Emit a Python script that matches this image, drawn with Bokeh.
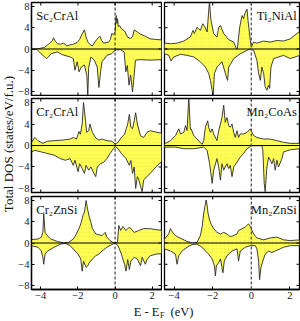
import numpy as np
from bokeh.plotting import figure
from bokeh.models import Range1d, FixedTicker, LinearAxis, Span, Label
from bokeh.layouts import gridplot, row, column
from bokeh.core.properties import value
from bokeh.embed import file_html
from bokeh.resources import INLINE

SERIF = "Liberation Serif"

# ---------------- data (energy in eV, DOS in states/eV/f.u.) ----------------
sc_e_up = [-4.5, -4.15, -3.8, -3.55, -3.37, -3.32, -3.2, -3.11, -2.94, -2.77, -2.6, -2.4, -2.25, -2.05, -1.91,
           -1.78, -1.65, -1.56, -1.45, -1.3, -1.22, -1.05, -0.96, -0.82, -0.72, -0.61, -0.35, -0.25, -0.18, -0.1,
           0.0, 0.06, 0.1, 0.13, 0.18, 0.25, 0.34, 0.51, 0.68, 0.85, 0.94, 1.03, 1.2, 1.37, 1.63, 1.89, 2.2, 2.5]
sc_up = [0.0, 0.05, 0.3, 1.0, 1.6, 2.1, 1.4, 1.0, 0.9, 1.1, 0.6, 0.8, 0.9, 1.2, 1.8,
         2.8, 3.6, 2.2, 1.2, 0.7, 0.6, 1.5, 1.9, 2.4, 1.6, 1.1, 1.3, 1.8, 2.9, 2.7,
         3.2, 6.3, 4.8, 5.7, 4.2, 4.4, 3.8, 3.4, 2.2, 2.0, 2.3, 3.6, 3.2, 2.8, 2.4, 1.9, 1.8, 1.7]
sc_e_dn = [-4.5, -4.2, -3.98, -3.7, -3.62, -3.45, -3.11, -2.85, -2.42, -2.25, -2.16, -2.04, -1.94, -1.82, -1.65,
           -1.52, -1.47, -1.42, -1.3, -1.12, -0.96, -0.87, -0.78, -0.7, -0.44, -0.19, 0.0, 0.1, 0.3, 0.49,
           0.51, 0.58, 0.66, 0.75, 0.84, 0.94, 1.03, 1.1, 1.37, 1.89, 2.5]
sc_dn = [0.0, -0.1, -0.9, -1.8, -1.6, -0.9, -0.55, -1.06, -1.5, -1.8, -4.0, -2.4, -4.3, -3.4, -3.0,
         -5.0, -8.8, -3.5, -1.5, -2.1, -3.4, -7.25, -4.3, -2.4, -1.2, -0.9, -0.25, -0.15, -0.15, -0.55,
         -1.5, -4.3, -3.1, -6.8, -4.9, -8.1, -4.9, -2.1, -2.0, -2.1, -2.0]

ti_e_up = [-4.5, -4.19, -3.85, -3.5, -3.16, -3.02, -2.95, -2.81, -2.64, -2.52, -2.41, -2.29, -2.17, -2.09, -1.95,
           -1.78, -1.69, -1.6, -1.43, -1.17, -0.91, -0.78, -0.72, -0.6, -0.48, -0.4, -0.31, -0.22, -0.17, -0.05,
           0.0, 0.12, 0.29, 0.64, 0.98, 1.33, 1.67, 2.02, 2.36, 2.5]
ti_up = [1.1, 1.0, 1.1, 1.5, 2.25, 3.5, 2.9, 4.1, 3.5, 4.75, 4.2, 3.2, 8.9, 5.4, 2.9,
         2.25, 4.1, 4.4, 2.9, 1.75, 1.3, 0.1, 0.1, 4.1, 6.3, 5.7, 6.9, 7.5, 5.4, 1.6,
         0.4, 1.3, 1.1, 1.5, 1.3, 1.6, 1.5, 1.9, 2.9, 3.2]
ti_e_dn = [-4.5, -4.28, -4.16, -4.02, -3.67, -3.33, -2.98, -2.64, -2.38, -2.21, -2.12, -2.03, -1.98, -1.91, -1.78,
           -1.52, -1.29, -1.23, -1.17, -0.91, -0.57, -0.22, -0.05, 0.12, 0.29, 0.38, 0.47, 0.55, 0.64, 0.72,
           0.81, 0.9, 0.95, 1.02, 1.16, 1.67, 2.02, 2.36, 2.5]
ti_dn = [-0.9, -1.2, -2.25, -1.5, -1.0, -1.2, -1.5, -2.4, -3.4, -4.6, -5.9, -7.75, -8.8, -4.6, -3.4,
         -2.4, -5.25, -5.9, -3.4, -1.8, -0.9, -0.25, 0.0, -0.25, -2.1, -4.6, -5.9, -3.4, -4.6, -7.1,
         -7.75, -6.8, -7.4, -3.4, -1.8, -1.2, -1.8, -1.4, -1.2]

cr_e_up = [-4.5, -4.32, -4.15, -3.89, -3.63, -3.28, -2.86, -2.42, -2.25, -2.08, -1.94, -1.87, -1.77, -1.7, -1.59,
           -1.53, -1.42, -1.35, -1.28, -1.22, -1.04, -0.87, -0.7, -0.44, -0.18, 0.0, 0.16, 0.34, 0.51, 0.68,
           0.77, 0.85, 0.94, 1.03, 1.11, 1.2, 1.37, 1.54, 1.72, 1.89, 2.2, 2.5]
cr_up = [0.6, 1.5, 0.9, 0.4, 0.8, 0.9, 1.0, 1.2, 1.5, 1.2, 2.6, 2.1, 4.0, 8.0, 4.6,
         2.45, 2.75, 4.0, 3.1, 2.45, 1.4, 1.0, 1.2, 0.9, 0.8, 0.3, 0.6, 1.5, 2.1, 4.0,
         5.8, 3.4, 3.1, 4.6, 6.1, 4.0, 1.8, 1.5, 2.45, 2.75, 2.5, 2.3]
cr_e_dn = [-4.5, -4.32, -3.97, -3.63, -3.28, -2.94, -2.68, -2.42, -2.25, -2.16, -1.99, -1.91, -1.77, -1.65, -1.56,
           -1.42, -1.3, -1.18, -1.04, -0.96, -0.78, -0.61, -0.44, -0.27, -0.09, 0.0, 0.16, 0.34, 0.59, 0.77,
           0.85, 0.94, 1.03, 1.11, 1.2, 1.28, 1.37, 1.46, 1.54, 1.72, 1.89, 2.2, 2.5]
cr_dn = [-1.2, -0.9, -1.2, -1.5, -1.8, -2.45, -2.75, -2.45, -3.7, -2.75, -4.9, -3.4, -4.3, -5.2, -3.7,
         -4.6, -4.0, -4.9, -5.8, -4.0, -3.4, -3.1, -2.45, -1.5, -0.6, -0.2, -0.6, -1.5, -2.45, -3.7,
         -2.8, -5.2, -4.0, -8.0, -5.8, -6.4, -7.6, -8.6, -6.4, -5.8, -5.2, -4.0, -3.0]

mc_e_up = [-4.5, -4.19, -3.93, -3.76, -3.67, -3.5, -3.41, -3.33, -3.24, -3.16, -3.12, -2.98, -2.81, -2.55, -2.47,
           -2.38, -2.26, -2.21, -2.12, -2.03, -1.95, -1.78, -1.69, -1.6, -1.52, -1.43, -1.35, -1.26, -1.17, -1.09,
           -1.0, -0.91, -0.83, -0.74, -0.66, -0.57, -0.4, -0.22, -0.05, 0.0, 0.12, 0.29, 0.64, 0.98, 1.33,
           1.67, 2.02, 2.5]
mc_up = [0.3, 0.9, 1.85, 3.1, 2.15, 2.45, 3.7, 2.8, 9.0, 3.0, 3.1, 1.85, 1.2, 0.2, 0.9,
         3.4, 4.6, 3.4, 2.45, 3.1, 2.15, 0.9, 2.75, 4.0, 5.2, 7.5, 4.3, 5.2, 3.7, 3.4,
         4.0, 2.45, 1.5, 2.75, 1.5, 2.15, 2.15, 2.45, 3.1, 2.75, 1.85, 1.5, 1.2, 1.2, 0.9,
         0.6, 0.4, 0.4]
mc_e_dn = [-4.5, -3.93, -3.5, -2.98, -2.47, -2.29, -2.16, -2.03, -1.95, -1.78, -1.69, -1.6, -1.52, -1.43, -1.35,
           -1.26, -1.17, -1.09, -1.0, -0.91, -0.74, -0.57, -0.4, -0.22, -0.05, 0.03, 0.55, 0.6, 0.67, 0.72,
           0.81, 0.9, 1.07, 1.16, 1.24, 1.33, 1.41, 1.59, 1.67, 2.02, 2.5]
mc_dn = [-0.3, -0.3, -0.6, -0.6, -0.3, -0.9, -3.4, -7.05, -4.6, -2.45, -4.0, -6.45, -3.4, -4.6, -4.0,
         -3.4, -4.3, -3.7, -5.8, -4.0, -3.1, -2.15, -1.5, -0.6, -0.2, -0.05, -0.05, -0.9, -7.05, -8.6,
         -4.0, -2.15, -3.4, -2.45, -4.6, -2.75, -4.0, -2.45, -1.2, -0.8, -0.6]

cz_e_up = [-4.5, -4.15, -3.97, -3.89, -3.84, -3.77, -3.66, -3.46, -3.11, -2.77, -2.51, -2.25, -2.08, -1.91, -1.82,
           -1.73, -1.65, -1.56, -1.47, -1.39, -1.3, -1.22, -1.04, -0.7, -0.53, -0.44, -0.27, -0.09, 0.01, 0.13,
           0.2, 0.3, 0.42, 0.59, 0.77, 1.03, 1.28, 1.54, 1.89, 2.2, 2.5]
cz_up = [0.65, 0.75, 1.1, 2.0, 5.5, 2.0, 1.4, 0.75, 0.3, 0.0, 0.1, 0.75, 1.7, 3.0, 3.9,
         5.2, 5.8, 8.0, 6.2, 4.9, 3.9, 2.7, 1.7, 1.4, 2.0, 1.1, 0.45, 0.05, 0.0, 0.1,
         3.3, 2.35, 3.1, 2.35, 3.0, 2.0, 2.35, 2.7, 2.7, 2.5, 2.4]
cz_e_dn = [-4.5, -4.15, -3.97, -3.89, -3.84, -3.77, -3.63, -3.28, -2.94, -2.68, -2.42, -2.16, -1.99, -1.85, -1.77,
           -1.7, -1.56, -1.47, -1.39, -1.22, -1.04, -0.87, -0.7, -0.44, -0.18, 0.01, 0.16, 0.34, 0.51, 0.59,
           0.68, 0.77, 0.85, 1.03, 1.2, 1.37, 1.46, 1.63, 1.72, 1.89, 2.2, 2.5]
cz_dn = [-0.5, -0.8, -1.5, -2.7, -4.0, -2.1, -1.5, -0.8, -0.2, -0.05, -0.5, -1.5, -2.1, -3.0, -5.3,
         -3.4, -4.6, -4.3, -3.7, -3.0, -2.4, -2.1, -1.5, -0.8, -0.3, 0.0, -0.5, -2.1, -4.0, -5.3,
         -3.1, -5.0, -3.4, -2.7, -3.0, -4.3, -2.7, -4.0, -3.1, -2.4, -2.1, -2.0]

mz_e_up = [-4.5, -4.28, -4.19, -4.14, -4.02, -3.85, -3.59, -3.33, -3.07, -2.81, -2.64, -2.55, -2.47, -2.41, -2.34,
           -2.29, -2.24, -2.16, -2.09, -1.95, -1.78, -1.6, -1.43, -1.26, -1.09, -0.91, -0.74, -0.66, -0.48, -0.31,
           -0.14, -0.05, 0.12, 0.29, 0.64, 0.98, 1.33, 1.67, 2.02, 2.36, 2.5]
mz_up = [0.75, 1.7, 2.7, 2.35, 1.7, 1.2, 0.75, 0.3, 0.0, 0.1, 1.4, 3.0, 5.5, 6.8, 8.1,
         7.1, 5.5, 4.3, 3.6, 2.7, 2.0, 1.7, 2.0, 1.7, 1.2, 1.4, 1.7, 2.35, 2.7, 3.0,
         3.6, 3.1, 1.7, 0.95, 0.6, 0.95, 1.1, 0.6, 0.45, 0.55, 0.55]
mz_e_dn = [-4.5, -4.19, -3.93, -3.85, -3.76, -3.59, -3.33, -3.07, -2.81, -2.55, -2.38, -2.21, -2.03, -1.91, -1.86,
           -1.81, -1.69, -1.6, -1.52, -1.47, -1.4, -1.26, -1.0, -0.74, -0.66, -0.57, -0.31, -0.05, 0.21, 0.29,
           0.38, 0.43, 0.5, 0.6, 0.72, 0.9, 1.07, 1.24, 1.5, 1.67, 2.02, 2.5]
mz_dn = [-1.1, -1.5, -2.1, -4.0, -2.4, -1.5, -0.8, -0.3, -0.2, -0.8, -1.5, -2.1, -3.0, -4.3, -6.2,
         -4.3, -3.7, -3.0, -4.6, -5.6, -3.4, -2.4, -1.5, -1.1, -3.4, -1.5, -0.8, -0.5, -0.5, -1.1,
         -3.4, -6.9, -4.6, -3.4, -2.1, -1.5, -1.8, -1.5, -1.1, -0.8, -0.5, -0.5]

compounds = ["Sc₂CrAl", "Ti₂NiAl", "Cr₂CrAl", "Mn₂CoAs", "Cr₂ZnSi", "Mn₂ZnSi"]
x_ticks = [-4, -2, 0, 2]
y_ticks = [-8, -4, 0, 4, 8]

series = [
    (sc_e_up, sc_up, sc_e_dn, sc_dn),
    (ti_e_up, ti_up, ti_e_dn, ti_dn),
    (cr_e_up, cr_up, cr_e_dn, cr_dn),
    (mc_e_up, mc_up, mc_e_dn, mc_dn),
    (cz_e_up, cz_up, cz_e_dn, cz_dn),
    (mz_e_up, mz_up, mz_e_dn, mz_dn),
]

YELLOW = "#ffff55"
XMIN, XMAX = -4.5, 2.5
YMIN, YMAX = -8.75, 8.75
PAGE_H = 321
YSTRIP_W = 15
LEFT_B = 11
FRAME_W = 135
FRAME_H = [93, 94, 93]
TOP_B = 2
BOTTOM_B = [1, 2, 14]


def add_axis(p, side, ticks):
    ax = LinearAxis(ticker=FixedTicker(ticks=ticks, minor_ticks=[]))
    ax.major_tick_in = 3
    ax.major_tick_out = 0
    ax.major_tick_line_color = "black"
    ax.major_tick_line_width = 1
    ax.minor_tick_line_color = None
    ax.axis_line_color = "black"
    ax.axis_line_width = 1.3
    ax.major_label_text_font = SERIF
    ax.major_label_text_font_size = "10.5px"
    ax.major_label_text_color = "#222222"
    ax.major_label_standoff = 2
    p.add_layout(ax, side)


def edge_ticks(p, xs, ys, vertical):
    # short inward tick marks on an unlabelled frame edge (half of each dash is clipped by the frame)
    p.scatter(x=xs, y=ys, marker="dash", size=6, angle=np.pi / 2 if vertical else 0.0,
              line_color="black", line_width=1)


def make_panel(idx):
    r, c = divmod(idx, 2)
    left_b = LEFT_B if c == 0 else 2
    p = figure(width=left_b + FRAME_W + 1, height=TOP_B + FRAME_H[r] + BOTTOM_B[r],
               x_range=Range1d(XMIN, XMAX), y_range=Range1d(YMIN, YMAX), title=None,
               output_backend="svg", toolbar_location=None,
               x_axis_location=None, y_axis_location=None,
               min_border=0, min_border_left=left_b, min_border_right=1,
               min_border_top=TOP_B, min_border_bottom=BOTTOM_B[r])
    p.xgrid.visible = False
    p.ygrid.visible = False
    p.outline_line_color = "black"
    p.outline_line_width = 1.3
    p.background_fill_color = "white"
    p.border_fill_color = "white"

    eu, du, ed, dd = series[idx]
    for e, d in ((eu, du), (ed, dd)):
        p.varea(x=e, y1=0, y2=d, fill_color=YELLOW, fill_alpha=1.0,
                hatch_pattern="dot", hatch_color="#c8c030", hatch_alpha=0.25, hatch_scale=4)
        p.line(x=e, y=d, line_color="#2a2a2a", line_width=0.9)

    p.add_layout(Span(location=0, dimension="width", line_color="black", line_width=1.1))
    p.add_layout(Span(location=0, dimension="height", line_color="#555555" if c else "black",
                      line_width=1.3 if c else 0.9, line_dash="3 2"))

    # ticks on all four sides, labels only on the outer edges
    if r == 2:
        add_axis(p, "below", x_ticks)
    else:
        edge_ticks(p, x_ticks, [YMIN] * len(x_ticks), True)
    if c == 0:
        add_axis(p, "left", y_ticks)
    else:
        edge_ticks(p, [XMIN] * len(y_ticks), y_ticks, False)
    edge_ticks(p, x_ticks, [YMAX] * len(x_ticks), True)
    edge_ticks(p, [XMAX] * len(y_ticks), y_ticks, False)

    if c == 0:
        lab = Label(x=-4.24, y=6.3, text=compounds[idx], text_font=SERIF, text_font_size="12.5px",
                    text_align="left", text_baseline="alphabetic", text_color="#111111")
    else:
        lab = Label(x=2.36, y=6.3, text=compounds[idx], text_font=SERIF, text_font_size="12.5px",
                    text_align="right", text_baseline="alphabetic", text_color="#111111")
    p.add_layout(lab)
    return p


panels = [make_panel(i) for i in range(6)]
grid = gridplot([[panels[0], panels[1]], [panels[2], panels[3]], [panels[4], panels[5]]],
                toolbar_location=None)
grid_h = sum(TOP_B + FRAME_H[r] + BOTTOM_B[r] for r in range(3))

# y-axis title strip (full page height)
yfig = figure(width=YSTRIP_W, height=PAGE_H, x_range=Range1d(0, YSTRIP_W), y_range=Range1d(0, PAGE_H),
              title=None, output_backend="svg", toolbar_location=None,
              x_axis_location=None, y_axis_location=None, min_border=0, outline_line_color=None)
yfig.xgrid.visible = False
yfig.ygrid.visible = False
yfig.text(x=[YSTRIP_W / 2], y=[PAGE_H - 143.5], text=["Total DOS (states/eV/f.u.)"], angle=np.pi / 2,
          text_align="center", text_baseline="middle", text_font=value(SERIF),
          text_font_size="13px", text_color="#111111")

# x-axis title strip below the panels (coordinates = page pixels, y grows downward)
XSTRIP_H = PAGE_H - grid_h
xfig = figure(width=300 - YSTRIP_W, height=XSTRIP_H, x_range=Range1d(YSTRIP_W, 300),
              y_range=Range1d(PAGE_H, PAGE_H - XSTRIP_H), title=None,
              output_backend="svg", toolbar_location=None, x_axis_location=None, y_axis_location=None,
              min_border=0, outline_line_color=None)
xfig.xgrid.visible = False
xfig.ygrid.visible = False
xfig.text(x=[159], y=[311.3], text=["E - E"], text_align="right", text_baseline="middle",
          text_font=value(SERIF), text_font_size="12.5px", text_color="#111111")
xfig.text(x=[159.4], y=[314.6], text=["F"], text_align="left", text_baseline="middle",
          text_font=value(SERIF), text_font_size="8px", text_color="#111111")
xfig.text(x=[170], y=[311.3], text=["(eV)"], text_align="left", text_baseline="middle",
          text_font=value(SERIF), text_font_size="12.5px", text_color="#111111")

layout = row(yfig, column(grid, xfig))

open("out.html", "w").write(file_html(layout, INLINE))
